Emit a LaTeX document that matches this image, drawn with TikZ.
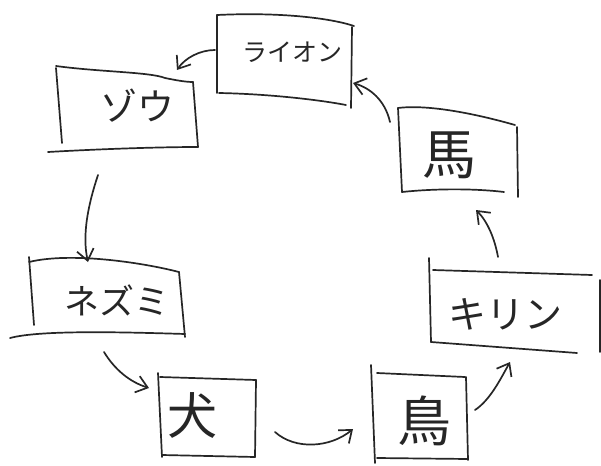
\documentclass[tikz,border=0pt]{standalone}
\usepackage{fontspec}
\newfontfamily\jp{Noto Sans CJK JP}
\usetikzlibrary{arrows.meta}
\tikzset{
  pen/.style={draw=black!85, line width=1.7pt, line cap=round, line join=round},
  arr/.style={pen, -{Straight Barb[length=11pt,width=17pt,line width=1.7pt]}},
  lbl/.style={inner sep=0pt, text=black!85, font=\jp}
}
\begin{document}
\begin{tikzpicture}[x={(1pt,0)}, y={(0,-1pt)}]
\useasboundingbox (0,0) rectangle (601,465);
\fill[white] (0,0) rectangle (601,465);
% boxes
% Lion
\draw[pen] (217,15) -- (217,93);
\draw[pen] (217,15) .. controls (280,12) and (330,18) .. (354,26);
\draw[pen] (352,27) -- (351,108);
\draw[pen] (219,93) .. controls (270,94) and (320,100) .. (346,105);
% Elephant
\draw[pen] (56,68) -- (62,143);
\draw[pen] (56,66) .. controls (100,72) and (150,72) .. (165,78) .. controls (175,80) and (185,82) .. (193,82);
\draw[pen] (193,82) -- (198,147);
\draw[pen] (48,152) .. controls (100,149) and (160,147) .. (198,147);
% Horse
\draw[pen] (398,108) -- (402,192);
\draw[pen] (398,108) .. controls (430,104) and (480,115) .. (515,125);
\draw[pen] (517,127) -- (518,197);
\draw[pen] (402,192) .. controls (440,188) and (480,189) .. (504,192);
% Mouse
\draw[pen] (29,257) -- (34,325);
\draw[pen] (29,262) .. controls (70,252) and (140,262) .. (179,272);
\draw[pen] (179,272) -- (185,337);
\draw[pen] (10,338) .. controls (40,330) and (120,332) .. (185,334);
% Giraffe
\draw[pen] (429,258) -- (431,342);
\draw[pen] (433,270) -- (592,275);
\draw[pen] (600,280) -- (600,352);
\draw[pen] (431,342) -- (577,353);
% Dog
\draw[pen] (158,373) -- (162,457);
\draw[pen] (160,377) -- (256,380);
\draw[pen] (256,380) -- (255,457);
\draw[pen] (162,455) -- (255,457);
% Bird
\draw[pen] (371,365) -- (375,463);
\draw[pen] (377,373) -- (465,377);
\draw[pen] (466,377) -- (468,460);
\draw[pen] (377,458) -- (468,459);
% labels
\node[lbl, font=\jp\fontsize{25}{25}\selectfont] (lion) at (292,52) {ライオン};
\node[lbl, font=\jp\fontsize{37}{37}\selectfont] (elephant) at (137,106) {ゾウ};
\node[lbl, font=\jp\fontsize{54}{54}\selectfont] (horse) at (449,155) {馬};
\node[lbl, font=\jp\fontsize{35}{35}\selectfont] (mouse) at (117,300) {ネズミ};
\node[lbl, font=\jp\fontsize{38}{38}\selectfont] (giraffe) at (505,314) {キリン};
\node[lbl, font=\jp\fontsize{50}{50}\selectfont] (dog) at (192,415) {犬};
\node[lbl, font=\jp\fontsize{54}{54}\selectfont] (bird) at (424,421) {鳥};
% arrow end points
\coordinate (l1) at (215,50);  \coordinate (e1) at (177,70);
\coordinate (e2) at (98,175);  \coordinate (m1) at (88,262);
\coordinate (m2) at (104,352); \coordinate (d1) at (149,388);
\coordinate (d2) at (275,432); \coordinate (b1) at (353,429);
\coordinate (b2) at (475,410); \coordinate (g1) at (510,362);
\coordinate (g2) at (498,257); \coordinate (h1) at (476,210);
\coordinate (h2) at (390,122); \coordinate (l2) at (353,83);
% arrows
\draw[arr] (l1) .. controls (200,50) and (185,58) .. (e1);
\draw[arr] (e2) .. controls (88,205) and (82,235) .. (m1);
\draw[arr] (m2) .. controls (115,370) and (130,382) .. (d1);
\draw[arr] (d2) .. controls (295,450) and (330,448) .. (b1);
\draw[arr] (b2) .. controls (490,400) and (500,380) .. (g1);
\draw[arr] (g2) .. controls (495,240) and (488,222) .. (h1);
\draw[arr] (h2) .. controls (385,100) and (370,88) .. (l2);
\end{tikzpicture}
\end{document}
